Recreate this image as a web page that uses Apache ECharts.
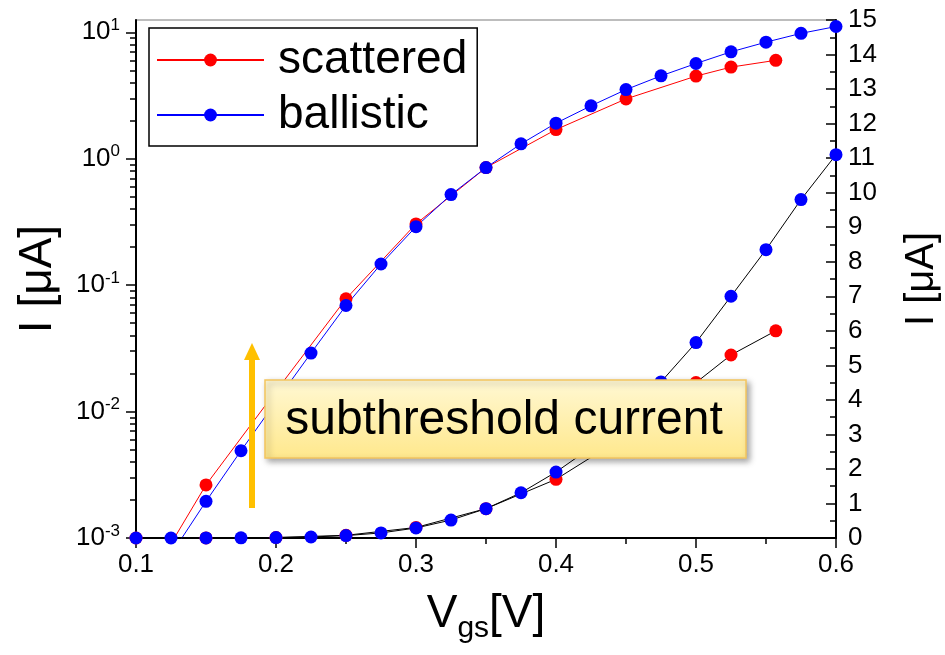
<!DOCTYPE html>
<html>
<head>
<meta charset="utf-8">
<script src="https://cdn.jsdelivr.net/npm/echarts@6/dist/echarts.min.js"></script>
<style>
  html, body { margin: 0; background: #fff; }
  #main { width: 945px; height: 655px; }
</style>
</head>
<body>
<div id="main"></div>
<script>
// gate voltage grid of the ballistic run
const vgsBallistic = [0.1, 0.125, 0.15, 0.175, 0.2, 0.225, 0.25, 0.275, 0.3, 0.325, 0.35,
  0.375, 0.4, 0.425, 0.45, 0.475, 0.5, 0.525, 0.55, 0.575, 0.6];
const currentBallistic = [0.00028, 0.00074, 0.00195, 0.0049, 0.012, 0.029, 0.069, 0.147, 0.29, 0.52, 0.85,
  1.31, 1.91, 2.62, 3.52, 4.52, 5.66, 7.0, 8.35, 9.8, 11.1];

// scattered run is coarser and stops early
const vgsScattered = [0.1, 0.15, 0.2, 0.25, 0.3, 0.35, 0.4, 0.45, 0.5, 0.525, 0.557];
const currentScattered = [0.00031, 0.00263, 0.0145, 0.078, 0.305, 0.85, 1.7, 2.97, 4.5, 5.3, 6.0];

const logMajorTicks = [0.001, 0.01, 0.1, 1, 10];
const logMinorTicks = [];
logMajorTicks.slice(0, 4).forEach((d) => {
  for (let m = 2; m <= 9; m++) logMinorTicks.push(+(d * m).toPrecision(3));
});

const FONT = 'Liberation Sans, Arial, sans-serif';
const pairs = (xs, ys) => xs.map((x, i) => [x, ys[i]]);

const chart = echarts.init(document.getElementById('main'));

// log-scale copy, left axis (both left log axes share the same range)
const logSeries = (name, xs, ys, color, yAxisIndex) => ({
  name,
  type: 'line',
  xAxisIndex: 0,
  yAxisIndex,
  data: pairs(xs, ys),
  symbol: 'circle',
  symbolSize: 13,
  showAllSymbol: true,
  clip: true,
  itemStyle: { color },
  lineStyle: { color, width: 1 },
  emphasis: { disabled: true },
});
// linear copy, right axis
const linSeries = (name, xs, ys, color) => ({
  name,
  type: 'line',
  xAxisIndex: 0,
  yAxisIndex: 2,
  data: pairs(xs, ys),
  symbol: 'circle',
  symbolSize: 13,
  showAllSymbol: true,
  clip: true,
  itemStyle: { color },
  lineStyle: { color: '#000', width: 1 },
  emphasis: { disabled: true },
});

const logAxis = (ticks, tickLen, extra) => Object.assign({
  type: 'log',
  position: 'left',
  min: 0.001,
  max: 12.5,
  axisTick: { show: true, inside: false, length: tickLen, customValues: ticks,
    lineStyle: { color: '#000', width: 1.5 } },
  minorTick: { show: false },
  splitLine: { show: false },
}, extra);

chart.setOption({
  animation: false,
  textStyle: { fontFamily: FONT, color: '#000' },
  grid: {
    left: 136, right: 109, top: 20, bottom: 117,
    outerBoundsMode: 'none',
    show: true, borderColor: '#a8a8a8', borderWidth: 1.5, backgroundColor: '#fff',
  },
  legend: {
    data: ['scattered', 'ballistic'],
    orient: 'vertical',
    left: 149,
    top: 28,
    padding: [9, 10, 8, 7],
    itemGap: 9,
    itemWidth: 107,
    itemHeight: 16,
    borderColor: '#000',
    borderWidth: 1.5,
    backgroundColor: '#fff',
    textStyle: { fontSize: 46, fontFamily: FONT, color: '#000', padding: [0, 0, 0, 9] },
  },
  xAxis: {
    type: 'value',
    min: 0.1,
    max: 0.6,
    interval: 0.1,
    name: '{v|V}{s|gs}{v|[V]}',
    nameLocation: 'middle',
    nameGap: 50,
    nameTextStyle: {
      rich: {
        v: { fontSize: 46, lineHeight: 52, fontFamily: FONT, color: '#000' },
        s: { fontSize: 30, lineHeight: 30, padding: [30, 0, 0, 0], fontFamily: FONT, color: '#000' },
      },
    },
    axisLine: { onZero: false, lineStyle: { color: '#000', width: 2 } },
    axisTick: { show: true, inside: false, length: 10, lineStyle: { color: '#000', width: 1.5 } },
    minorTick: { show: true, splitNumber: 2, length: 6, lineStyle: { color: '#000', width: 1.5 } },
    axisLabel: {
      fontSize: 26, margin: 14, color: '#000',
      formatter: (v) => v.toFixed(1),
    },
    splitLine: { show: false },
  },
  yAxis: [
    logAxis(logMajorTicks, 10, {
      name: 'I [\u03bcA]',
      nameLocation: 'middle',
      nameGap: 75,
      nameTextStyle: { fontSize: 46, fontFamily: FONT, color: '#000' },
      axisLine: { show: true, onZero: false, lineStyle: { color: '#000', width: 2 } },
      axisLabel: {
        customValues: logMajorTicks,
        margin: 16,
        formatter: (v) => '{b|10}{s|' + Math.round(Math.log10(v)) + '}',
        rich: {
          b: { fontSize: 26, fontFamily: FONT, color: '#000' },
          s: { fontSize: 17, fontFamily: FONT, color: '#000', padding: [0, 0, 14, 0] },
        },
      },
    }),
    // second copy of the log axis only carries the 2..9 minor ticks
    logAxis(logMinorTicks, 6, {
      axisLine: { show: false },
      axisLabel: { show: true, customValues: logMinorTicks, formatter: () => '' },
    }),
    {
      type: 'value',
      position: 'right',
      min: 0,
      max: 15,
      interval: 1,
      name: 'I [\u03bcA]',
      nameLocation: 'middle',
      nameGap: 66,
      nameTextStyle: { fontSize: 40, fontFamily: FONT, color: '#000' },
      axisLine: { show: true, onZero: false, lineStyle: { color: '#000', width: 2 } },
      axisTick: { show: true, inside: true, length: 10, lineStyle: { color: '#000', width: 1.5 } },
      minorTick: { show: true, splitNumber: 2, length: 6, lineStyle: { color: '#000', width: 1.5 } },
      axisLabel: { fontSize: 26, margin: 12, color: '#000' },
      splitLine: { show: false },
    },
  ],
  series: [
    logSeries('scattered', vgsScattered, currentScattered, '#ff0000', 1),
    logSeries('ballistic', vgsBallistic, currentBallistic, '#0000ff', 0),
    linSeries('scattered (linear)', vgsScattered, currentScattered, '#ff0000'),
    linSeries('ballistic (linear)', vgsBallistic, currentBallistic, '#0000ff'),
  ],
  graphic: [
    {
      type: 'rect',
      z: 100,
      shape: { x: 249, y: 358, width: 6, height: 150 },
      style: { fill: '#ffc000' },
    },
    {
      type: 'polygon',
      z: 100,
      shape: { points: [[244, 360], [252, 343], [260, 360]] },
      style: { fill: '#ffc000' },
    },
    {
      type: 'rect',
      z: 100,
      shape: { x: 265, y: 380, width: 481, height: 78 },
      style: {
        fill: new echarts.graphic.LinearGradient(0, 0, 0, 1, [
          { offset: 0, color: '#fff8d4' },
          { offset: 1, color: '#ffe88c' },
        ]),
        stroke: '#f4c55e',
        lineWidth: 1.5,
        shadowBlur: 6,
        shadowOffsetX: 3,
        shadowOffsetY: 3,
        shadowColor: 'rgba(0,0,0,0.35)',
      },
    },
    {
      type: 'text',
      z: 101,
      x: 504,
      y: 421,
      style: {
        text: 'subthreshold current',
        fontSize: 48,
        fontFamily: FONT,
        fill: '#000',
        align: 'center',
        verticalAlign: 'middle',
      },
    },
  ],
});
</script>
</body>
</html>
